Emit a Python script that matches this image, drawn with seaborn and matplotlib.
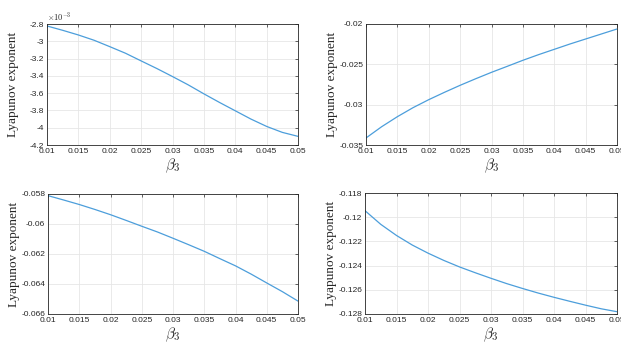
import matplotlib
matplotlib.use("Agg")
import matplotlib.pyplot as plt
import seaborn as sns
import pandas as pd
from matplotlib.ticker import FuncFormatter, MultipleLocator

# beta_3 samples and Lyapunov exponents
beta3 = [0.01, 0.0125, 0.015, 0.0175, 0.02, 0.0225, 0.025, 0.0275, 0.03,
         0.0325, 0.035, 0.0375, 0.04, 0.0425, 0.045, 0.0475, 0.05]
lyap_a = [-2.823e-3, -2.873e-3, -2.927e-3, -2.988e-3, -3.062e-3, -3.138e-3, -3.227e-3, -3.315e-3,
          -3.408e-3, -3.504e-3, -3.608e-3, -3.708e-3, -3.804e-3, -3.9e-3, -3.985e-3, -4.054e-3, -4.1e-3]
lyap_b = [-0.03413, -0.03273, -0.03149, -0.03037, -0.02938, -0.02847, -0.0276, -0.02678,
          -0.02599, -0.02525, -0.0245, -0.0238, -0.02314, -0.02248, -0.02186, -0.02124, -0.02062]
lyap_c = [-0.05811, -0.0584, -0.0587, -0.05903, -0.05938, -0.05976, -0.06015, -0.06053,
          -0.06095, -0.06138, -0.06182, -0.06231, -0.06279, -0.06334, -0.06393, -0.06451, -0.06514]
lyap_d = [-0.11946, -0.12059, -0.12151, -0.1223, -0.12297, -0.12357, -0.12411, -0.12459,
          -0.12505, -0.12549, -0.12589, -0.12627, -0.12662, -0.12695, -0.12727, -0.12757, -0.12781]

sns.set_theme(style="white")
plt.rcParams["font.family"] = ["Liberation Sans", "DejaVu Sans"]
plt.rcParams["mathtext.fontset"] = "cm"

W, H = 621, 348
fig = plt.figure(figsize=(W / 100, H / 100), dpi=100)

# panel boxes in pixels: left, top, right, bottom
boxes = [(47, 24, 298, 145), (366, 24, 617, 145),
         (48, 194, 298, 314), (365, 193, 617, 314)]
series = [lyap_a, lyap_b, lyap_c, lyap_d]
ylims = [(-4.2e-3, -2.8e-3), (-0.035, -0.02), (-0.066, -0.058), (-0.128, -0.118)]
ysteps = [0.2e-3, 0.005, 0.002, 0.002]

g = lambda v, p: "%g" % round(v, 6)

for i, (box, vals) in enumerate(zip(boxes, series)):
    l, t, r, b = box
    ax = fig.add_axes([l / W, 1 - b / H, (r - l) / W, (b - t) / H])
    df = pd.DataFrame({"beta3": beta3, "lyap": vals})
    sns.lineplot(data=df, x="beta3", y="lyap", ax=ax, color="#4C9EDB", linewidth=0.9)
    ax.set_xlim(0.01, 0.05)
    ax.set_ylim(*ylims[i])
    ax.xaxis.set_major_locator(MultipleLocator(0.005))
    ax.yaxis.set_major_locator(MultipleLocator(ysteps[i]))
    ax.xaxis.set_major_formatter(FuncFormatter(g))
    if i == 0:
        ax.yaxis.set_major_formatter(FuncFormatter(lambda v, p: "%g" % round(v * 1e3, 4)))
        ax.text(0, 1.01, r"$\times10^{-3}$", transform=ax.transAxes, fontsize=6,
                ha="left", va="bottom", family="DejaVu Sans")
    else:
        ax.yaxis.set_major_formatter(FuncFormatter(g))
    ax.grid(True, color="#e6e6e6", linewidth=0.6)
    ax.tick_params(axis="both", which="both", direction="in", length=2.5, width=0.5,
                   labelsize=6, top=True, right=True, pad=2, colors="#262626")
    for s in ax.spines.values():
        s.set_linewidth(0.6)
        s.set_color("#262626")
    ax.set_xlabel(r"$\beta_3$", fontsize=11, labelpad=1)
    ax.set_ylabel("Lyapunov exponent", fontsize=9.5, family="Liberation Serif")
    ax.yaxis.label.set_va("center")
    ax.yaxis.set_label_coords(-0.135, 0.5)

fig.savefig("out.png", dpi=100)
